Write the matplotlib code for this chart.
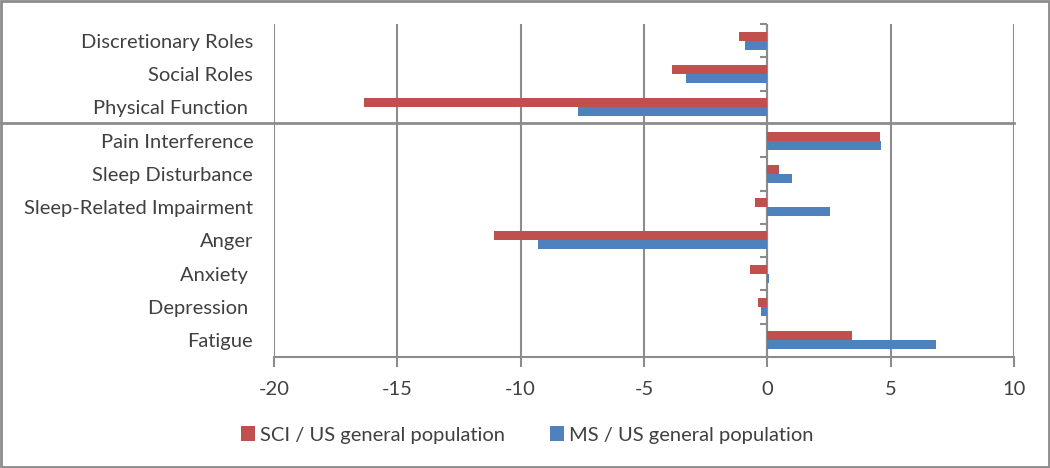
import numpy as np
import matplotlib
matplotlib.use("Agg")
import matplotlib.pyplot as plt
from matplotlib.patches import Rectangle
from matplotlib.lines import Line2D

plt.rcParams['font.family'] = ['Lato', 'DejaVu Sans']

# categories listed top to bottom
categories = ["Discretionary Roles", "Social Roles", "Physical Function ",
              "Pain Interference", "Sleep Disturbance", "Sleep-Related Impairment",
              "Anger", "Anxiety ", "Depression ", "Fatigue"]
sci_vals = [-1.15, -3.86, -16.34, 4.57, 0.47, -0.50, -11.08, -0.72, -0.37, 3.43]
ms_vals = [-0.91, -3.29, -7.69, 4.62, 0.99, 2.55, -9.29, 0.08, -0.27, 6.83]
x_ticks = [-20, -15, -10, -5, 0, 5, 10]
series_names = ["SCI / US general population", "MS / US general population"]

red = "#C0504D"
blue = "#4F81BD"
grey = "#8C8C8C"
txt = "#404040"
fs = 14.5

fig = plt.figure(figsize=(10.5, 4.68), dpi=100)
ax = fig.add_axes([274 / 1050, 1 - 357 / 468, 740 / 1050, 333 / 468])

y = np.arange(len(categories))
h = 0.27
ax.barh(y - h / 2, sci_vals, height=h, color=red, label=series_names[0], zorder=3)
ax.barh(y + h / 2, ms_vals, height=h, color=blue, label=series_names[1], zorder=3)

ax.set_xlim(-20, 10)
ax.set_ylim(len(categories) - 0.5, -0.5)
ax.set_xticks(x_ticks)
ax.set_xticklabels([str(t) for t in x_ticks], fontsize=fs, color=txt)
ax.set_yticks(y)
ax.set_yticklabels(categories, fontsize=fs, color=txt)
ax.tick_params(axis='y', length=0, pad=15)
ax.tick_params(axis='x', length=7, width=1.5, color=grey, pad=10)

ax.grid(axis='x', color=grey, linewidth=1.5, zorder=0)
for s in ['top', 'right', 'left']:
    ax.spines[s].set_visible(False)
ax.spines['bottom'].set_color(grey)
ax.spines['bottom'].set_linewidth(1.5)

# vertical axis at zero, with short ticks to the left at category boundaries
ax.axvline(0, color=grey, linewidth=1.5, zorder=2)
bounds = np.arange(len(categories) + 1) - 0.5
ax.hlines(bounds, -0.3, 0, color=grey, linewidth=1.5, zorder=2, clip_on=False)

# separator line between groups, from chart edge
sep_y = 1 - 123 / 468
fig.add_artist(Line2D([0, 1014 / 1050], [sep_y, sep_y], color=grey, linewidth=2))

fig.legend(loc='center', bbox_to_anchor=(0.502, 1 - 435 / 468), ncol=2, frameon=False,
           fontsize=fs, handlelength=0.7, handleheight=0.7, handletextpad=0.25,
           columnspacing=2.2, labelcolor=txt)

fig.add_artist(Rectangle((0.001, 0.002), 0.998, 0.996, transform=fig.transFigure,
                         fill=False, edgecolor=grey, linewidth=2))

fig.savefig("out.png", dpi=100)
